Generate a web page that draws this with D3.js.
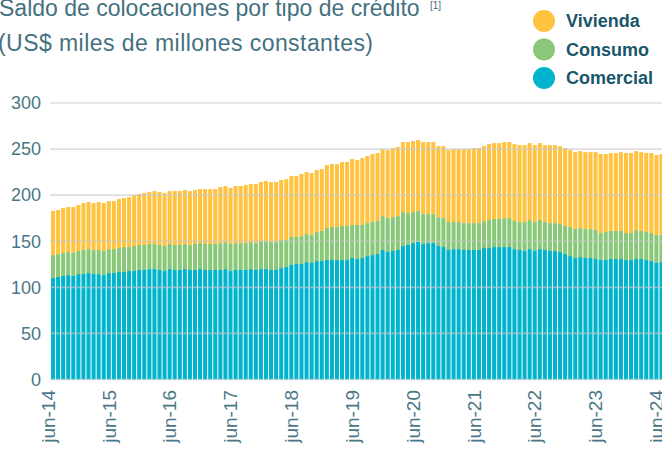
<!DOCTYPE html>
<html>
<head>
<meta charset="utf-8">
<script src="https://cdn.jsdelivr.net/npm/d3@7/dist/d3.min.js"></script>
<style>
  html, body { margin: 0; padding: 0; background: #fff; }
  svg { display: block; font-family: "Liberation Sans", Arial, Helvetica, sans-serif; }
</style>
</head>
<body>
<svg id="chart" width="662" height="449"></svg>
<script>
// ---- DATA ----
const tickLabels = ["jun-14","jun-15","jun-16","jun-17","jun-18","jun-19","jun-20","jun-21","jun-22","jun-23","jun-24"];
const seriesNames = ["Comercial", "Consumo", "Vivienda"];
const legendNames = ["Vivienda", "Consumo", "Comercial"];
const yTicks = [0, 50, 100, 150, 200, 250, 300];

// monthly, jun-14 .. jun-24 (121 months)
const comercial = [
110.1,111.2,112.3,113.3,112.3,114.4,114.4,115.5,114.4,114.4,113.3,115.5,
115.5,116.6,116.6,117.7,117.7,118.8,118.8,119.8,119.8,118.8,117.7,119.8,
118.8,118.8,119.8,118.8,118.8,119.8,118.8,118.8,118.8,118.8,119.8,117.7,
118.8,118.8,118.8,119.8,118.8,119.8,119.8,118.8,118.8,120.9,122.0,124.2,
125.3,125.3,127.4,126.4,128.5,128.5,129.6,129.6,129.6,129.6,129.6,131.8,
130.7,131.8,133.9,135.0,136.1,140.5,138.3,139.4,140.5,144.8,145.9,148.0,
149.6,147.0,148.0,148.0,144.8,143.7,140.5,141.5,141.5,140.5,140.5,140.5,
140.5,142.6,142.6,143.7,143.7,143.7,143.7,141.5,140.5,139.4,141.5,139.4,
141.5,140.5,139.4,139.4,138.3,136.1,133.9,131.8,132.8,131.8,131.8,130.7,
129.6,129.6,130.7,130.7,130.7,129.6,129.6,130.7,130.7,129.6,128.5,126.4,
127.4];
const consumo = [
24.9,24.9,24.9,25.0,24.9,25.0,26.1,26.0,26.1,26.1,26.1,26.0,
26.0,26.0,27.1,26.0,27.1,27.1,27.1,27.2,27.2,27.1,27.1,27.2,
27.1,27.1,27.2,27.1,28.2,28.2,28.2,28.2,28.2,29.2,29.3,29.3,
29.2,29.2,29.2,29.3,29.2,30.4,30.4,30.3,30.3,30.4,29.3,30.4,
29.3,30.3,30.4,30.3,31.5,32.6,34.7,35.8,35.8,36.9,36.9,35.8,
36.9,35.8,35.8,35.8,35.8,36.8,36.8,36.8,36.8,36.9,34.7,33.7,
33.2,32.5,31.5,31.5,31.4,31.4,30.3,29.3,29.3,29.2,29.2,29.2,
29.2,29.3,30.4,30.4,30.4,31.4,31.4,30.4,30.3,31.4,31.5,31.4,
31.5,30.3,30.3,30.3,30.4,30.4,31.5,31.4,31.5,31.4,31.4,31.4,
29.3,30.4,30.4,30.4,30.4,29.3,29.3,31.4,30.4,30.4,30.4,30.3,
29.3];
const vivienda = [
47.8,47.7,48.8,48.8,49.9,49.9,50.9,51.0,50.9,52.0,52.0,52.1,
52.1,53.2,53.2,54.2,55.3,55.3,56.4,56.4,57.4,57.5,57.5,57.4,
58.5,58.5,58.5,58.5,58.5,58.6,59.6,59.6,59.6,60.8,60.8,60.7,
61.9,61.9,62.9,62.9,64.0,64.0,65.1,65.1,65.1,65.1,66.1,66.1,
66.1,67.3,67.3,67.3,67.2,67.2,68.3,68.3,68.3,69.4,69.4,71.6,
70.5,72.6,72.7,73.8,73.8,72.7,73.8,74.9,74.9,75.9,77.0,77.0,
77.0,78.1,78.1,78.1,77.0,78.1,78.1,79.2,79.2,80.3,80.3,81.4,
81.4,81.3,82.4,82.4,82.4,82.5,82.5,83.5,83.5,83.5,83.5,83.5,
83.5,83.5,84.6,84.6,84.5,84.6,83.5,83.5,83.5,83.5,83.5,84.6,
85.7,84.6,84.6,84.6,85.6,86.8,86.8,85.7,85.6,85.7,86.8,86.8,
87.9];

const colors = { Vivienda: "#FFC340", Consumo: "#89C878", Comercial: "#00B4CD" };

// ---- BUILD ----
const months = d3.timeMonth.range(new Date(2014, 5, 1), new Date(2024, 6, 1));
const fmt = d3.timeFormat("%b-%y");
const table = months.map((m, i) => ({
  key: i,
  Comercial: comercial[i], Consumo: consumo[i], Vivienda: vivienda[i]
}));

const svg = d3.select("#chart");
const x = d3.scaleBand().domain(table.map(d => d.key)).range([51, 663.5]).paddingInner(0.2).paddingOuter(0);
const y = d3.scaleLinear().domain([0, 300]).range([379.5, 103]);

const stack = d3.stack().keys(seriesNames)(table);

svg.append("g").selectAll("g").data(stack).join("g")
  .attr("fill", s => colors[s.key])
  .selectAll("rect").data(s => s).join("rect")
  .attr("x", d => x(d.data.key))
  .attr("width", x.bandwidth())
  .attr("y", d => y(d[1]))
  .attr("height", d => y(d[0]) - y(d[1]));

// gridlines on top
svg.append("g").selectAll("line").data(yTicks).join("line")
  .attr("x1", 50).attr("x2", 662)
  .attr("y1", d => y(d)).attr("y2", d => y(d))
  .attr("stroke", "#c8c8c8").attr("stroke-opacity", 0.6).attr("stroke-width", 1.6);

// y labels
svg.append("g").selectAll("text").data(yTicks).join("text")
  .attr("x", 41).attr("y", d => y(d)).attr("dy", "0.35em")
  .attr("text-anchor", "end").attr("font-size", 18).attr("fill", "#4a7787")
  .text(d => d);

// x labels
const tickIdx = tickLabels.map(t => months.findIndex(m => fmt(m).toLowerCase() === t));
svg.append("g").selectAll("text").data(tickLabels).join("text")
  .attr("transform", (t, i) => `translate(${x(tickIdx[i]) + x.bandwidth() / 2 - 5},390) rotate(-90)`)
  .attr("dy", "0.35em")
  .attr("text-anchor", "end").attr("font-size", 19).attr("fill", "#4a7787")
  .text(t => t);

// title
const title = svg.append("g").attr("fill", "#44717f").attr("font-size", 23);
title.append("text").attr("x", -1).attr("y", 16).text("Saldo de colocaciones por tipo de crédito");
title.append("text").attr("x", 430).attr("y", 9).attr("font-size", 10).text("[1]");
title.append("text").attr("x", -2).attr("y", 51)
  .attr("textLength", 375).attr("lengthAdjust", "spacing")
  .text("(US$ miles de millones constantes)");

// legend
const lg = svg.append("g").selectAll("g").data(legendNames).join("g")
  .attr("transform", (d, i) => `translate(544,${21 + i * 28.5})`);
lg.append("circle").attr("r", 11).attr("fill", d => colors[d]);
lg.append("text").attr("x", 22).attr("dy", "0.36em")
  .attr("font-size", 18).attr("font-weight", "bold").attr("fill", "#1a566a")
  .text(d => d);
</script>
</body>
</html>
